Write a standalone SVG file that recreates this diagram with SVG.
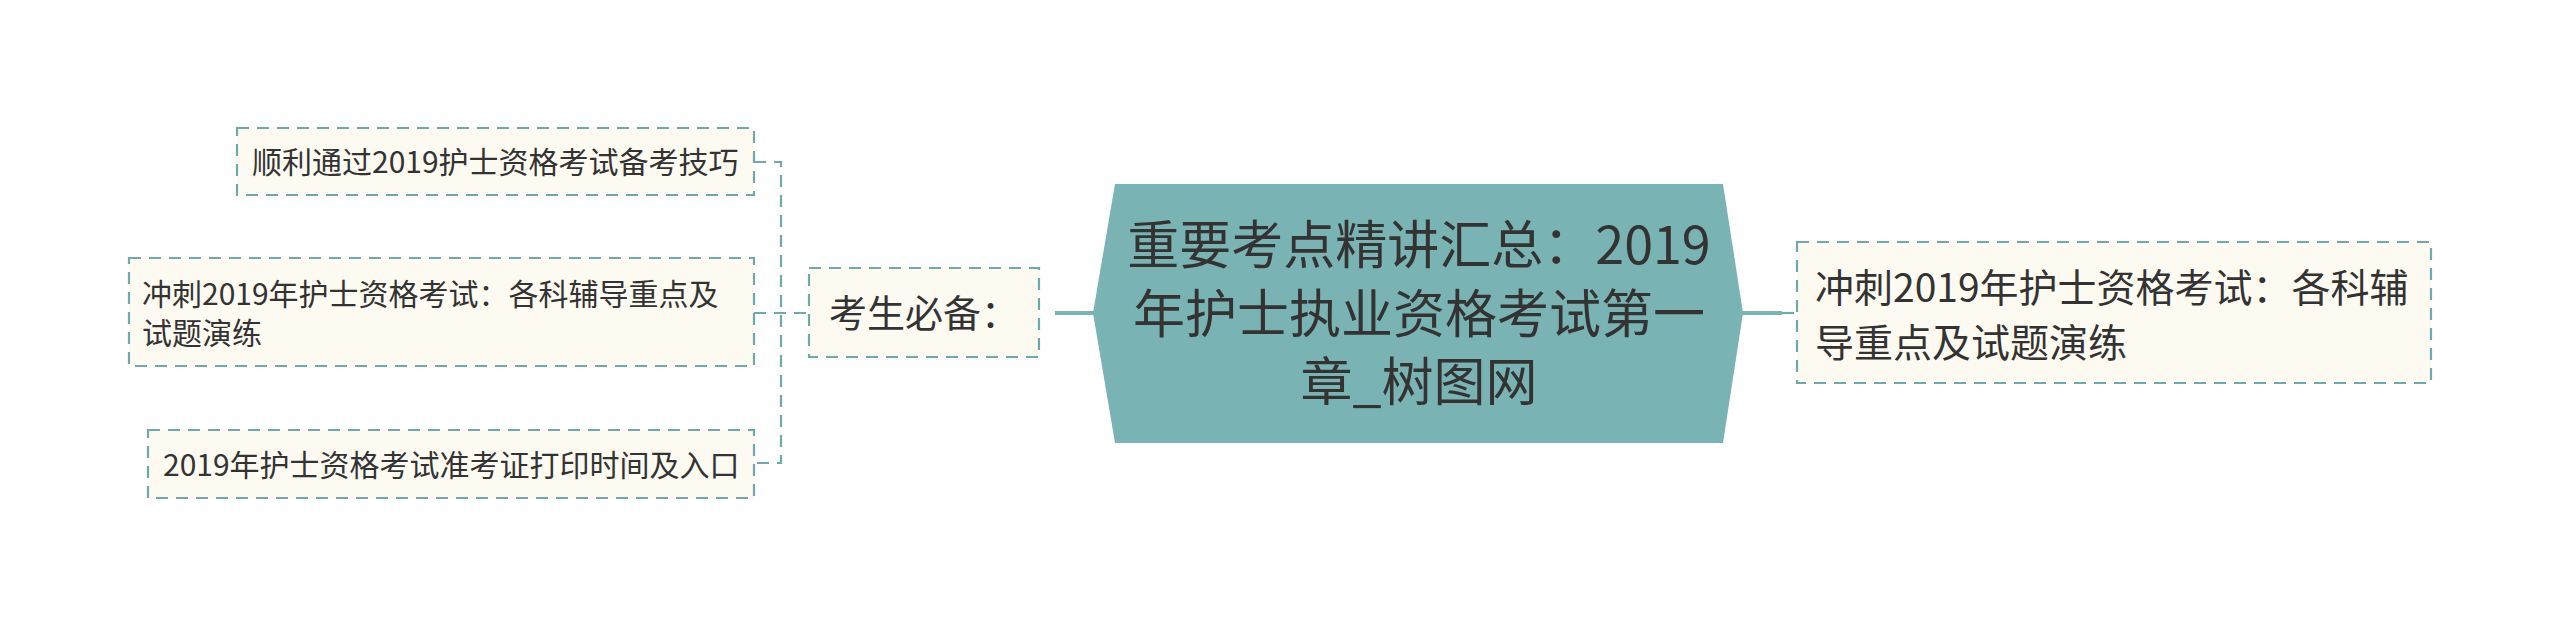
<svg xmlns="http://www.w3.org/2000/svg" width="2560" height="626" viewBox="0 0 2560 626">
<style>
.box{fill:#fdfaf1;stroke:#6fa9aa;stroke-width:2.2;stroke-dasharray:12 8}
.t{font-family:"Noto Sans CJK SC","Noto Sans",sans-serif;fill:#333333}
.dash{fill:none;stroke:#6fa9aa;stroke-width:2.2;stroke-dasharray:12 8}
.solid{fill:none;stroke:#7ab3b4;stroke-width:4}
</style>
<rect width="2560" height="626" fill="#ffffff"/>
<g id="connectors">
<path class="dash" d="M754,162 H781 V463 H754"/>
<path class="dash" d="M754,313 H809"/>
<path class="solid" d="M1055,313 H1095"/>
<path class="solid" d="M1741,313 H1782"/>
<path class="dash" d="M1782,313 H1797"/>
</g>
<g id="center">
<polygon points="1115,184 1723,184 1743,313 1723,443 1115,443 1093,313" fill="#7ab3b4"/>
<text class="t" font-size="52" text-anchor="middle"><tspan x="1419" y="264">重要考点精讲汇总：2019</tspan><tspan x="1419" y="333">年护士执业资格考试第一</tspan><tspan x="1419" y="401">章_树图网</tspan></text>
</g>
<g id="right1">
<rect class="box" x="1797" y="242" width="634" height="141"/>
<text class="t" font-size="39"><tspan x="1815" y="302">冲刺2019年护士资格考试：各科辅</tspan><tspan x="1815" y="357">导重点及试题演练</tspan></text>
</g>
<g id="kaosheng">
<rect class="box" x="809" y="268" width="230" height="89"/>
<text class="t" font-size="38" x="829" y="327">考生必备：</text>
</g>
<g id="left1">
<rect class="box" x="237" y="128" width="517" height="67"/>
<text class="t" font-size="30" x="252" y="173">顺利通过2019护士资格考试备考技巧</text>
</g>
<g id="left2">
<rect class="box" x="129" y="258" width="625" height="108"/>
<text class="t" font-size="30"><tspan x="142" y="305">冲刺2019年护士资格考试：各科辅导重点及</tspan><tspan x="142" y="344">试题演练</tspan></text>
</g>
<g id="left3">
<rect class="box" x="148" y="430" width="606" height="68"/>
<text class="t" font-size="30" x="163" y="476">2019年护士资格考试准考证打印时间及入口</text>
</g>
</svg>
